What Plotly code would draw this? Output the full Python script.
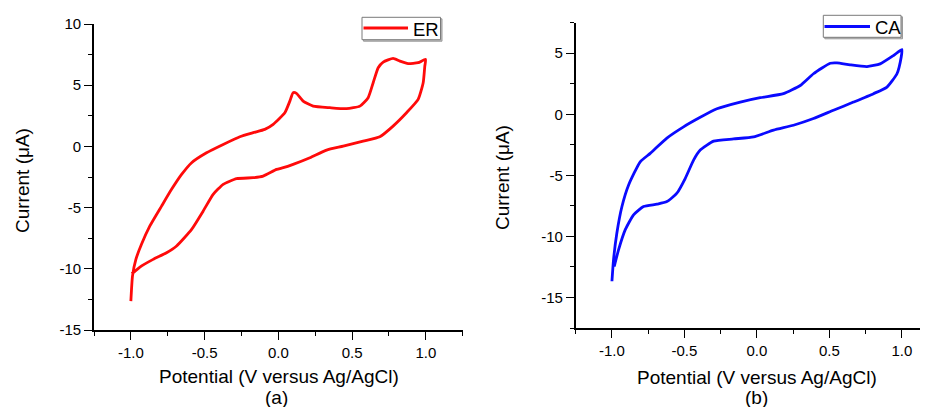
import plotly.graph_objects as go

# The page body adds an 8px offset; the figure is sized so that the page fits the window.
OFF = 8
W, H = 920, 399

# ER (panel a): anodic sweep then cathodic sweep
er_x = [-1.0, -0.989, -0.966, -0.928, -0.871, -0.792, -0.724, -0.656, -0.588, -0.487, -0.374,
        -0.261, -0.171, -0.092, -0.035, 0.044, 0.078, 0.10, 0.123, 0.168, 0.236, 0.349, 0.462,
        0.553, 0.609, 0.643, 0.677, 0.711, 0.778, 0.824, 0.880, 0.948, 0.998,
        0.993, 0.982, 0.948, 0.869, 0.778, 0.688, 0.575, 0.44, 0.327, 0.214, 0.10, 0.033,
        -0.012, -0.103, -0.171, -0.283, -0.374, -0.442, -0.51, -0.588, -0.69, -0.758, -0.849,
        -0.939, -0.984, -0.995]
er_y = [-12.64, -10.6, -9.23, -8.0, -6.5, -4.88, -3.51, -2.29, -1.33, -0.52, 0.16,
        0.79, 1.12, 1.39, 1.8, 2.75, 3.7, 4.39, 4.33, 3.7, 3.29, 3.16, 3.08,
        3.29, 3.98, 5.2, 6.43, 6.89, 7.19, 6.97, 6.76, 6.84, 7.11,
        6.56, 5.2, 3.84, 2.75, 1.66, 0.79, 0.43, 0.02, -0.3, -0.93, -1.47, -1.74,
        -1.88, -2.43, -2.56, -2.64, -3.1, -3.92, -5.29, -6.78, -8.14, -8.69, -9.23,
        -9.86, -10.32, -10.4]

# CA (panel b)
ca_x = [-1.0, -0.989, -0.966, -0.931, -0.885, -0.805, -0.736, -0.621, -0.506, -0.391, -0.276,
        -0.115, 0.023, 0.183, 0.299, 0.39, 0.506, 0.552, 0.643, 0.759, 0.85, 0.942, 1.0,
        0.995, 0.966, 0.897, 0.804, 0.666, 0.528, 0.39, 0.252, 0.115, -0.023, -0.161,
        -0.299, -0.391, -0.437, -0.494, -0.552, -0.621, -0.69, -0.782, -0.851, -0.908,
        -0.954, -0.984]
ca_y = [-13.67, -11.9, -9.72, -7.55, -5.79, -3.89, -3.2, -1.95, -1.03, -0.25, 0.45,
        1.0, 1.36, 1.69, 2.36, 3.32, 4.18, 4.21, 4.05, 3.91, 4.13, 4.81, 5.3,
        4.67, 3.32, 2.23, 1.69, 1.0, 0.33, -0.35, -0.9, -1.3, -1.85, -2.02,
        -2.2, -2.93, -3.75, -5.24, -6.46, -7.15, -7.36, -7.55, -8.23, -9.45,
        -11.08, -12.45]

x_ticks = [-1.0, -0.5, 0.0, 0.5, 1.0]
x_ticklabels = ["-1.0", "-0.5", "0.0", "0.5", "1.0"]
y1_ticks = [-15, -10, -5, 0, 5, 10]
y1_ticklabels = ["-15", "-10", "-5", "0", "5", "10"]
y2_ticks = [-15, -10, -5, 0, 5]
y2_ticklabels = ["-15", "-10", "-5", "0", "5"]

series_names = ["ER", "CA"]
series_colors = ["#ff0a0a", "#0a0aff"]

def px_x(p):
    return (p - OFF) / W

def px_y(p):
    return (H - (p - OFF)) / H

fig = go.Figure()
fig.add_trace(go.Scatter(x=er_x, y=er_y, mode="lines", name=series_names[0],
                         line=dict(color=series_colors[0], width=2.8, shape="spline", smoothing=0.5),
                         xaxis="x", yaxis="y", showlegend=False))
fig.add_trace(go.Scatter(x=ca_x, y=ca_y, mode="lines", name=series_names[1],
                         line=dict(color=series_colors[1], width=2.8, shape="spline", smoothing=0.5),
                         xaxis="x2", yaxis="y2", showlegend=False))

font_family = "Liberation Sans, Arial, sans-serif"
axis_common = dict(showline=True, linecolor="black", linewidth=1.6, ticks="outside",
                   ticklen=8, tickwidth=1.4, tickcolor="black", showgrid=False, zeroline=False,
                   tickfont=dict(family=font_family, size=15, color="black"))
minor_common = dict(ticks="outside", ticklen=4, tickwidth=1.4, tickcolor="black", tick0=0)

fig.update_layout(
    width=W, height=H, margin=dict(l=0, r=0, t=0, b=0, pad=0, autoexpand=False),
    paper_bgcolor="white", plot_bgcolor="white",
    font=dict(family=font_family, color="black"),
    showlegend=False,
    xaxis=dict(domain=[px_x(94), px_x(462.7)], range=[-1.25, 1.25], anchor="y",
               tickvals=x_ticks, ticktext=x_ticklabels,
               minor=dict(dtick=0.25, **minor_common), **axis_common),
    yaxis=dict(domain=[px_y(330), px_y(24)], range=[-15, 10], anchor="x",
               tickvals=y1_ticks, ticktext=y1_ticklabels,
               minor=dict(dtick=2.5, **minor_common), **axis_common),
    xaxis2=dict(domain=[px_x(575.7), 1.0], range=[-1.25, 1.18], anchor="y2",
                tickvals=x_ticks, ticktext=x_ticklabels,
                minor=dict(dtick=0.25, **minor_common), **axis_common),
    yaxis2=dict(domain=[px_y(328), px_y(22.7)], range=[-17.5, 7.5], anchor="x2",
                tickvals=y2_ticks, ticktext=y2_ticklabels,
                minor=dict(dtick=2.5, **minor_common), **axis_common),
)

# Legend boxes (one per panel), drawn as a framed key with a line sample and label
legend_boxes = [
    dict(x0=362, x1=440.5, y0=17.3, y1=39.7, lx0=363.5, lx1=408, ly=28, tx=411, ty=29),
    dict(x0=823.3, x1=901, y0=15.3, y1=37.3, lx0=824.5, lx1=870, ly=26.5, tx=872.5, ty=27),
]
for i, b in enumerate(legend_boxes):
    # shadow
    fig.add_shape(type="rect", xref="paper", yref="paper",
                  x0=px_x(b["x0"] + 1.5), x1=px_x(b["x1"] + 1.5),
                  y0=px_y(b["y1"] + 1.5), y1=px_y(b["y0"] + 1.5),
                  line=dict(color="#9a9a9a", width=1), fillcolor="#bdbdbd", layer="above")
    fig.add_shape(type="rect", xref="paper", yref="paper",
                  x0=px_x(b["x0"]), x1=px_x(b["x1"]), y0=px_y(b["y1"]), y1=px_y(b["y0"]),
                  line=dict(color="#7a7a7a", width=1), fillcolor="white", layer="above")
    fig.add_shape(type="line", xref="paper", yref="paper",
                  x0=px_x(b["lx0"]), x1=px_x(b["lx1"]), y0=px_y(b["ly"]), y1=px_y(b["ly"]),
                  line=dict(color=series_colors[i], width=2.8), layer="above")
    fig.add_annotation(xref="paper", yref="paper", showarrow=False, text=series_names[i],
                       x=px_x(b["tx"]), y=px_y(b["ty"]), xanchor="left", yanchor="middle",
                       font=dict(family=font_family, size=18.5, color="black"))

title_font = dict(family=font_family, size=19, color="black")
annotations = [
    dict(text="Potential (V versus Ag/AgCl)", x=px_x(278.5), y=px_y(376.5)),
    dict(text="(a)", x=px_x(276), y=px_y(397.5)),
    dict(text="Potential (V versus Ag/AgCl)", x=px_x(757), y=px_y(377)),
    dict(text="(b)", x=px_x(756), y=px_y(397.5)),
    dict(text="Current (\u03bcA)", x=px_x(22), y=px_y(181), textangle=-90),
    dict(text="Current (\u03bcA)", x=px_x(502), y=px_y(178), textangle=-90),
]
for a in annotations:
    fig.add_annotation(xref="paper", yref="paper", showarrow=False, font=title_font,
                       xanchor="center", yanchor="middle", **a)

fig.write_html("out.html")
